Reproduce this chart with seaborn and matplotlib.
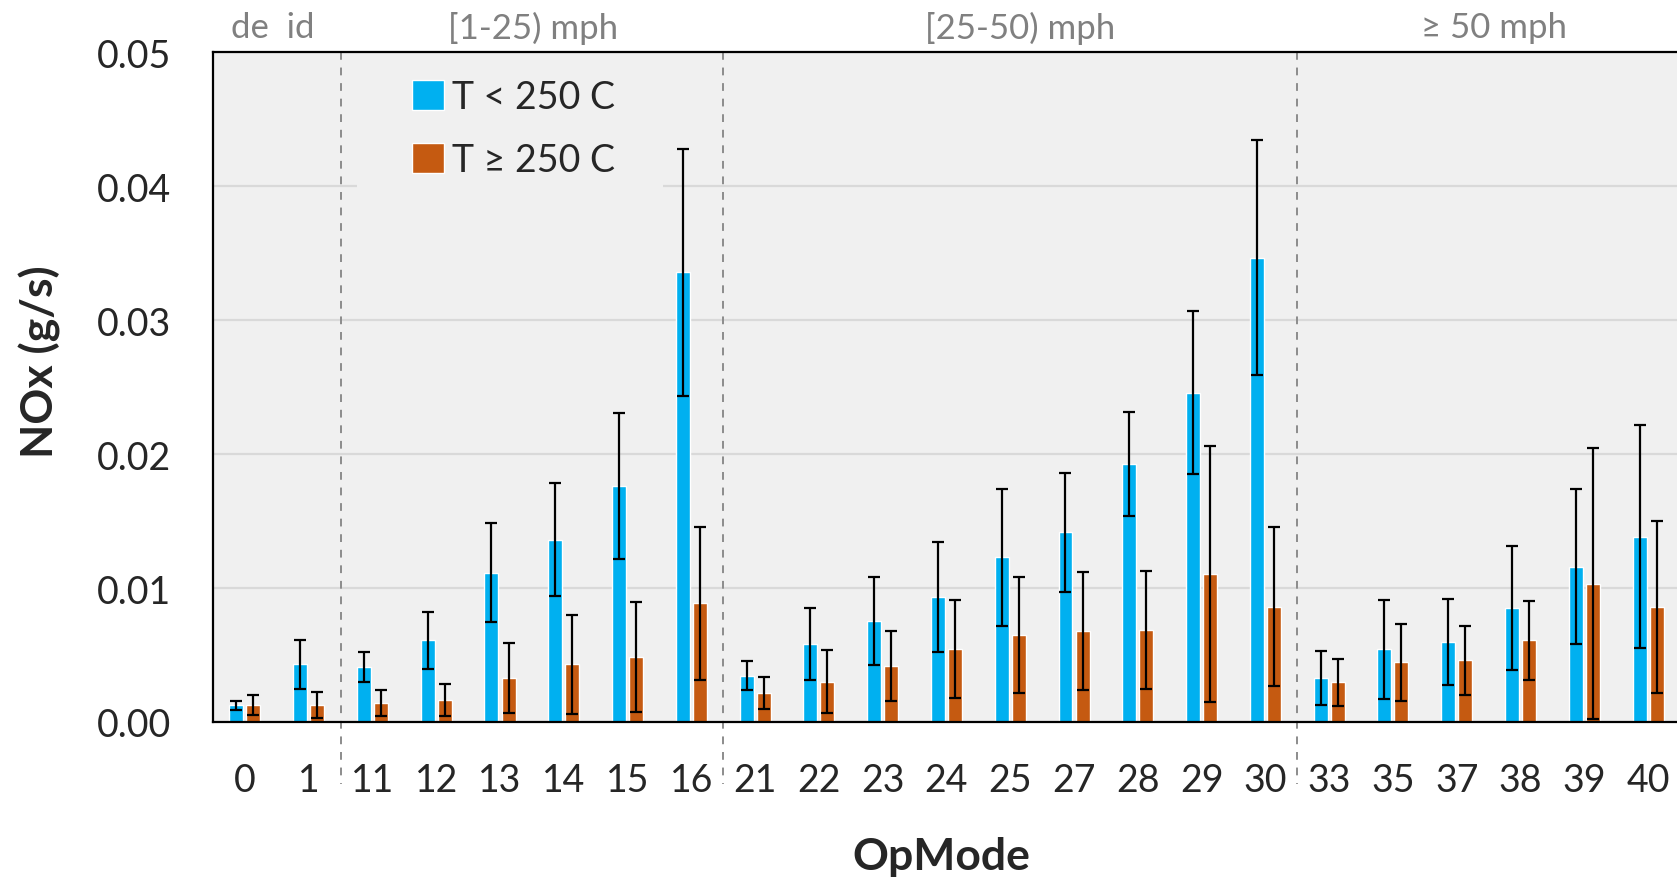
import matplotlib.pyplot as plt
import matplotlib.transforms as mtransforms
from matplotlib.patches import Rectangle
import pandas as pd
import seaborn as sns

# Chart data
opmodes = ['0', '1', '11', '12', '13', '14', '15', '16', '21', '22', '23', '24',
           '25', '27', '28', '29', '30', '33', '35', '37', '38', '39', '40']
nox_cold = [0.00126, 0.00431, 0.00409, 0.0061, 0.01115, 0.01361, 0.01762, 0.03356,
            0.00345, 0.00583, 0.00754, 0.00933, 0.01231, 0.01417, 0.01923, 0.02459,
            0.03467, 0.00327, 0.00543, 0.00595, 0.00848, 0.0116, 0.01383]
err_cold = [0.00034, 0.00182, 0.00114, 0.00214, 0.0037, 0.00422, 0.00545, 0.0092,
            0.00107, 0.0027, 0.00329, 0.00408, 0.00511, 0.00444, 0.00388, 0.0061,
            0.00875, 0.002, 0.00369, 0.00322, 0.00462, 0.00578, 0.00832]
nox_hot = [0.00126, 0.00126, 0.00141, 0.00164, 0.00327, 0.00431, 0.00483, 0.00885,
           0.00218, 0.003, 0.00419, 0.00546, 0.0065, 0.0068, 0.00687, 0.01104,
           0.00862, 0.00297, 0.00446, 0.00461, 0.0061, 0.01033, 0.00862]
err_hot = [0.00075, 0.001, 0.00094, 0.0012, 0.00263, 0.00369, 0.00409, 0.0057,
           0.0012, 0.00235, 0.00262, 0.00364, 0.0043, 0.00443, 0.00443, 0.00958,
           0.0059, 0.00174, 0.00289, 0.00257, 0.00295, 0.01012, 0.00642]
temp_labels = ['T < 250 C', 'T \u2265 250 C']
group_labels = ['de  id', '[1-25) mph', '[25-50) mph', '\u2265 50 mph']

# Layout bits
group_label_x = [0.44, 4.52, 12.15, 19.58]
separators = [1.5, 7.5, 16.5]
colors = ['#00B0F0', '#C55A11']

sns.set_style('white')
plt.rcParams['font.family'] = ['Lato', 'DejaVu Sans']

df = pd.DataFrame({
    'OpMode': opmodes * 2,
    'NOx': nox_cold + nox_hot,
    'Temp': [temp_labels[0]] * len(opmodes) + [temp_labels[1]] * len(opmodes),
})

fig = plt.figure(figsize=(16.77, 8.79), dpi=100)
ax = fig.add_axes([0.127, 0.1775, 0.874, 0.762])
ax.set_facecolor('#F0F0F0')

sns.barplot(data=df, x='OpMode', y='NOx', hue='Temp', order=opmodes,
            hue_order=temp_labels, palette=colors, errorbar=None,
            width=0.535, gap=0.18, saturation=1, ax=ax, zorder=2)

# error bars on top of the bars
for cont, err in zip(ax.containers, [err_cold, err_hot]):
    xs = [p.get_x() + p.get_width() / 2 for p in cont]
    ys = [p.get_height() for p in cont]
    ax.errorbar(xs, ys, yerr=err, fmt='none', ecolor='black', elinewidth=1.6,
                capsize=4.5, capthick=1.6, zorder=3)

ax.set_ylim(0, 0.05)
ax.set_xlim(-0.5, 22.48)
ax.set_yticks([0, 0.01, 0.02, 0.03, 0.04, 0.05])
ax.set_yticklabels(['%.2f' % v for v in ax.get_yticks()])
ax.yaxis.grid(True, color='#D9D9D9', linewidth=1.6, zorder=0)
ax.set_axisbelow(True)
ax.tick_params(axis='both', length=0, labelsize=27)
ax.tick_params(axis='y', pad=30)
ax.tick_params(axis='x', pad=29)

for s in ax.spines.values():
    s.set_color('black')
    s.set_linewidth(1.6)
ax.spines['right'].set_visible(False)

ax.set_xlabel('OpMode', fontsize=32, fontweight='bold')
ax.set_ylabel('NOx (g/s)', fontsize=32, fontweight='bold')
ax.xaxis.set_label_coords(0.497, -0.17)
ax.yaxis.set_label_coords(-0.104, 0.539)

# speed group separators and labels
trans = mtransforms.blended_transform_factory(ax.transData, ax.transAxes)
for xs in separators:
    ax.plot([xs, xs], [1.0, -0.093], transform=trans, color='#8C8C8C',
            linestyle=(0, (4, 4)), linewidth=1.4, clip_on=False, zorder=1)
for lab, xg in zip(group_labels, group_label_x):
    ax.text(xg, 1.037, lab, transform=trans, ha='center', va='center',
            fontsize=25, color='#808080')

# legend box hides the gridline behind it
ax.add_patch(Rectangle((0.098, 0.78), 0.209, 0.205, transform=ax.transAxes,
                       facecolor='#F0F0F0', edgecolor='none', zorder=1))
handles, labels = ax.get_legend_handles_labels()
ax.legend(handles, labels, loc='upper left', bbox_to_anchor=(0.133, 0.965),
          frameon=False, fontsize=27, handlelength=0.85, handleheight=0.85,
          handletextpad=0.22, labelspacing=0.72, borderpad=0.1, borderaxespad=0)

fig.savefig('out.png', dpi=100)
